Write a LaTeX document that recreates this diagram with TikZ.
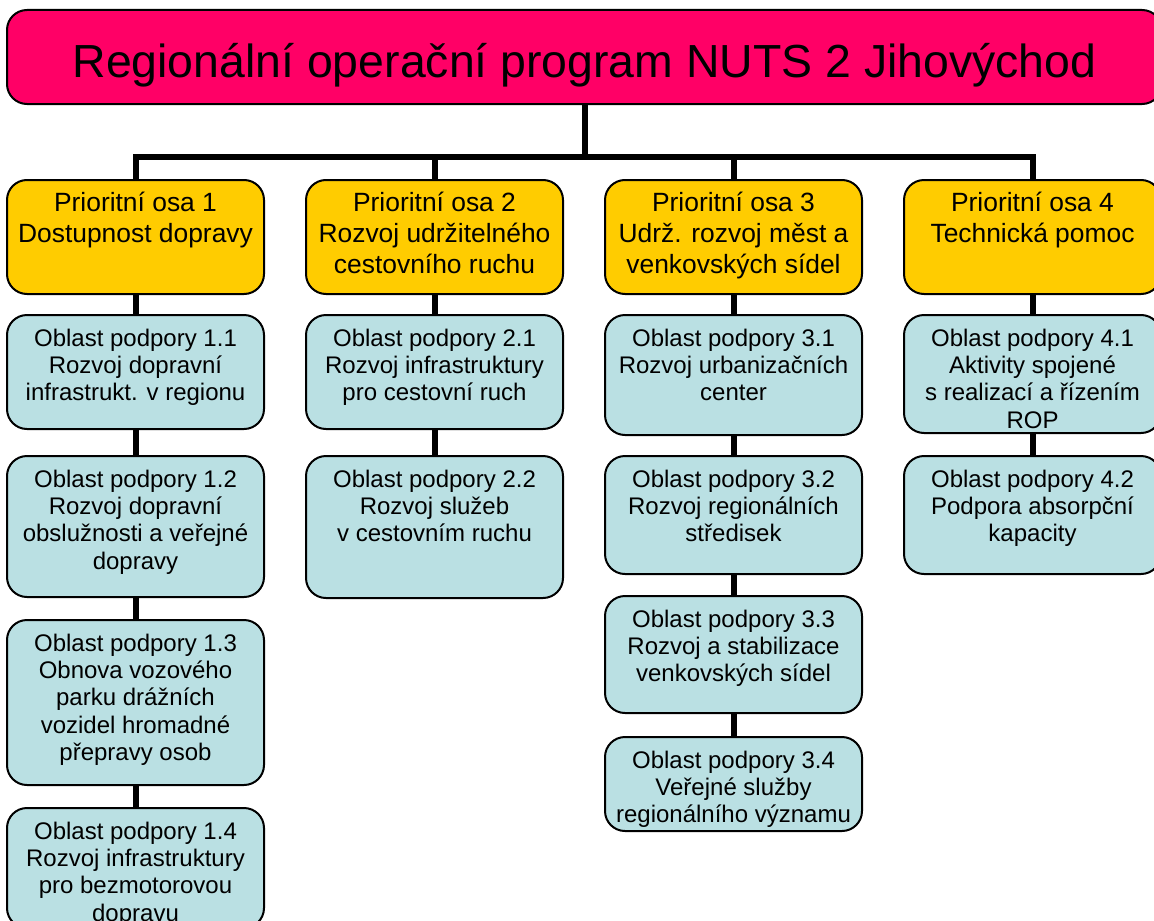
\documentclass[tikz,border=0pt]{standalone}
\usepackage{fontspec}
\setmainfont{Liberation Sans}
\usetikzlibrary{positioning}
\definecolor{title red}{HTML}{FF0066}
\definecolor{axis yellow}{HTML}{FFCC00}
\definecolor{area blue}{HTML}{BAE0E3}
\newcommand{\boxtxt}[2]{\parbox[t][#1][t]{126pt}{\centering\rule{0pt}{15.5pt}#2}}

\begin{document}
\begin{tikzpicture}[x=0.5pt, y=-0.5pt,
    box/.style={draw, rounded corners=10pt, inner sep=0pt, line width=1pt, minimum width=128.5pt},
    osa/.style={box, fill=axis yellow, anchor=north, font=\fontsize{13.2}{15.5}\selectfont},
    oblast/.style={box, fill=area blue, anchor=north, font=\fontsize{12}{13.7}\selectfont},
    conn/.style={line width=3pt}]
    \useasboundingbox (0,0) rectangle (1154,920);
    \clip (0,0) rectangle (1154,920);
    \node[box, fill=title red, minimum width=577.5pt, minimum height=47pt,
        text height=25pt, text depth=5pt, font=\fontsize{23.2}{28}\selectfont]
        (title) at (584.5,57) {Regionální operační program NUTS 2 Jihovýchod};
    \foreach \number/\x/\txt in {1/135.5/{Prioritní osa 1\\Dostupnost dopravy},
        2/434.5/{Prioritní osa 2\\Rozvoj udržitelného\\cestovního ruchu},
        3/733.5/{Prioritní osa 3\\Udrž. rozvoj měst a\\venkovských sídel},
        4/1032.5/{Prioritní osa 4\\Technická pomoc}}{
	\node[osa] (p\number) at (\x,179) {\boxtxt{57pt}{\txt}};
	\draw[conn] (title.south) -- ++(0,52) -| (p\number.north);
	};
    % oblasti podpory
    \node[oblast] (o11) at (135.5,314) {\boxtxt{57pt}{Oblast podpory 1.1\\Rozvoj dopravní\\infrastrukt. v regionu}};
    \node[oblast] (o12) at (135.5,455) {\boxtxt{70.5pt}{Oblast podpory 1.2\\Rozvoj dopravní\\obslužnosti a veřejné\\dopravy}};
    \node[oblast] (o13) at (135.5,619) {\boxtxt{82.5pt}{Oblast podpory 1.3\\Obnova vozového\\parku drážních\\vozidel hromadné\\přepravy osob}};
    \node[oblast] (o14) at (135.5,807) {\boxtxt{60pt}{Oblast podpory 1.4\\Rozvoj infrastruktury\\pro bezmotorovou\\dopravu}};
    \node[oblast] (o21) at (434.5,314) {\boxtxt{57pt}{Oblast podpory 2.1\\Rozvoj infrastruktury\\pro cestovní ruch}};
    \node[oblast] (o22) at (434.5,455) {\boxtxt{71pt}{Oblast podpory 2.2\\Rozvoj služeb\\v cestovním ruchu}};
    \node[oblast] (o31) at (733.5,314) {\boxtxt{60pt}{Oblast podpory 3.1\\Rozvoj urbanizačních\\center}};
    \node[oblast] (o32) at (733.5,455) {\boxtxt{59pt}{Oblast podpory 3.2\\Rozvoj regionálních\\středisek}};
    \node[oblast] (o33) at (733.5,595) {\boxtxt{58.5pt}{Oblast podpory 3.3\\Rozvoj a stabilizace\\venkovských sídel}};
    \node[oblast] (o34) at (733.5,736) {\boxtxt{47pt}{Oblast podpory 3.4\\Veřejné služby\\regionálního významu}};
    \node[oblast] (o41) at (1032.5,314) {\boxtxt{59pt}{Oblast podpory 4.1\\Aktivity spojené\\s realizací a řízením\\ROP}};
    \node[oblast] (o42) at (1032.5,455) {\boxtxt{59pt}{Oblast podpory 4.2\\Podpora absorpční\\kapacity}};
    \foreach \a/\b in {p1/o11, o11/o12, o12/o13, o13/o14, p2/o21, o21/o22,
        p3/o31, o31/o32, o32/o33, o33/o34, p4/o41, o41/o42}{
	\draw[conn] (\a.south) -- (\b.north);
	};
\end{tikzpicture}
\end{document}
